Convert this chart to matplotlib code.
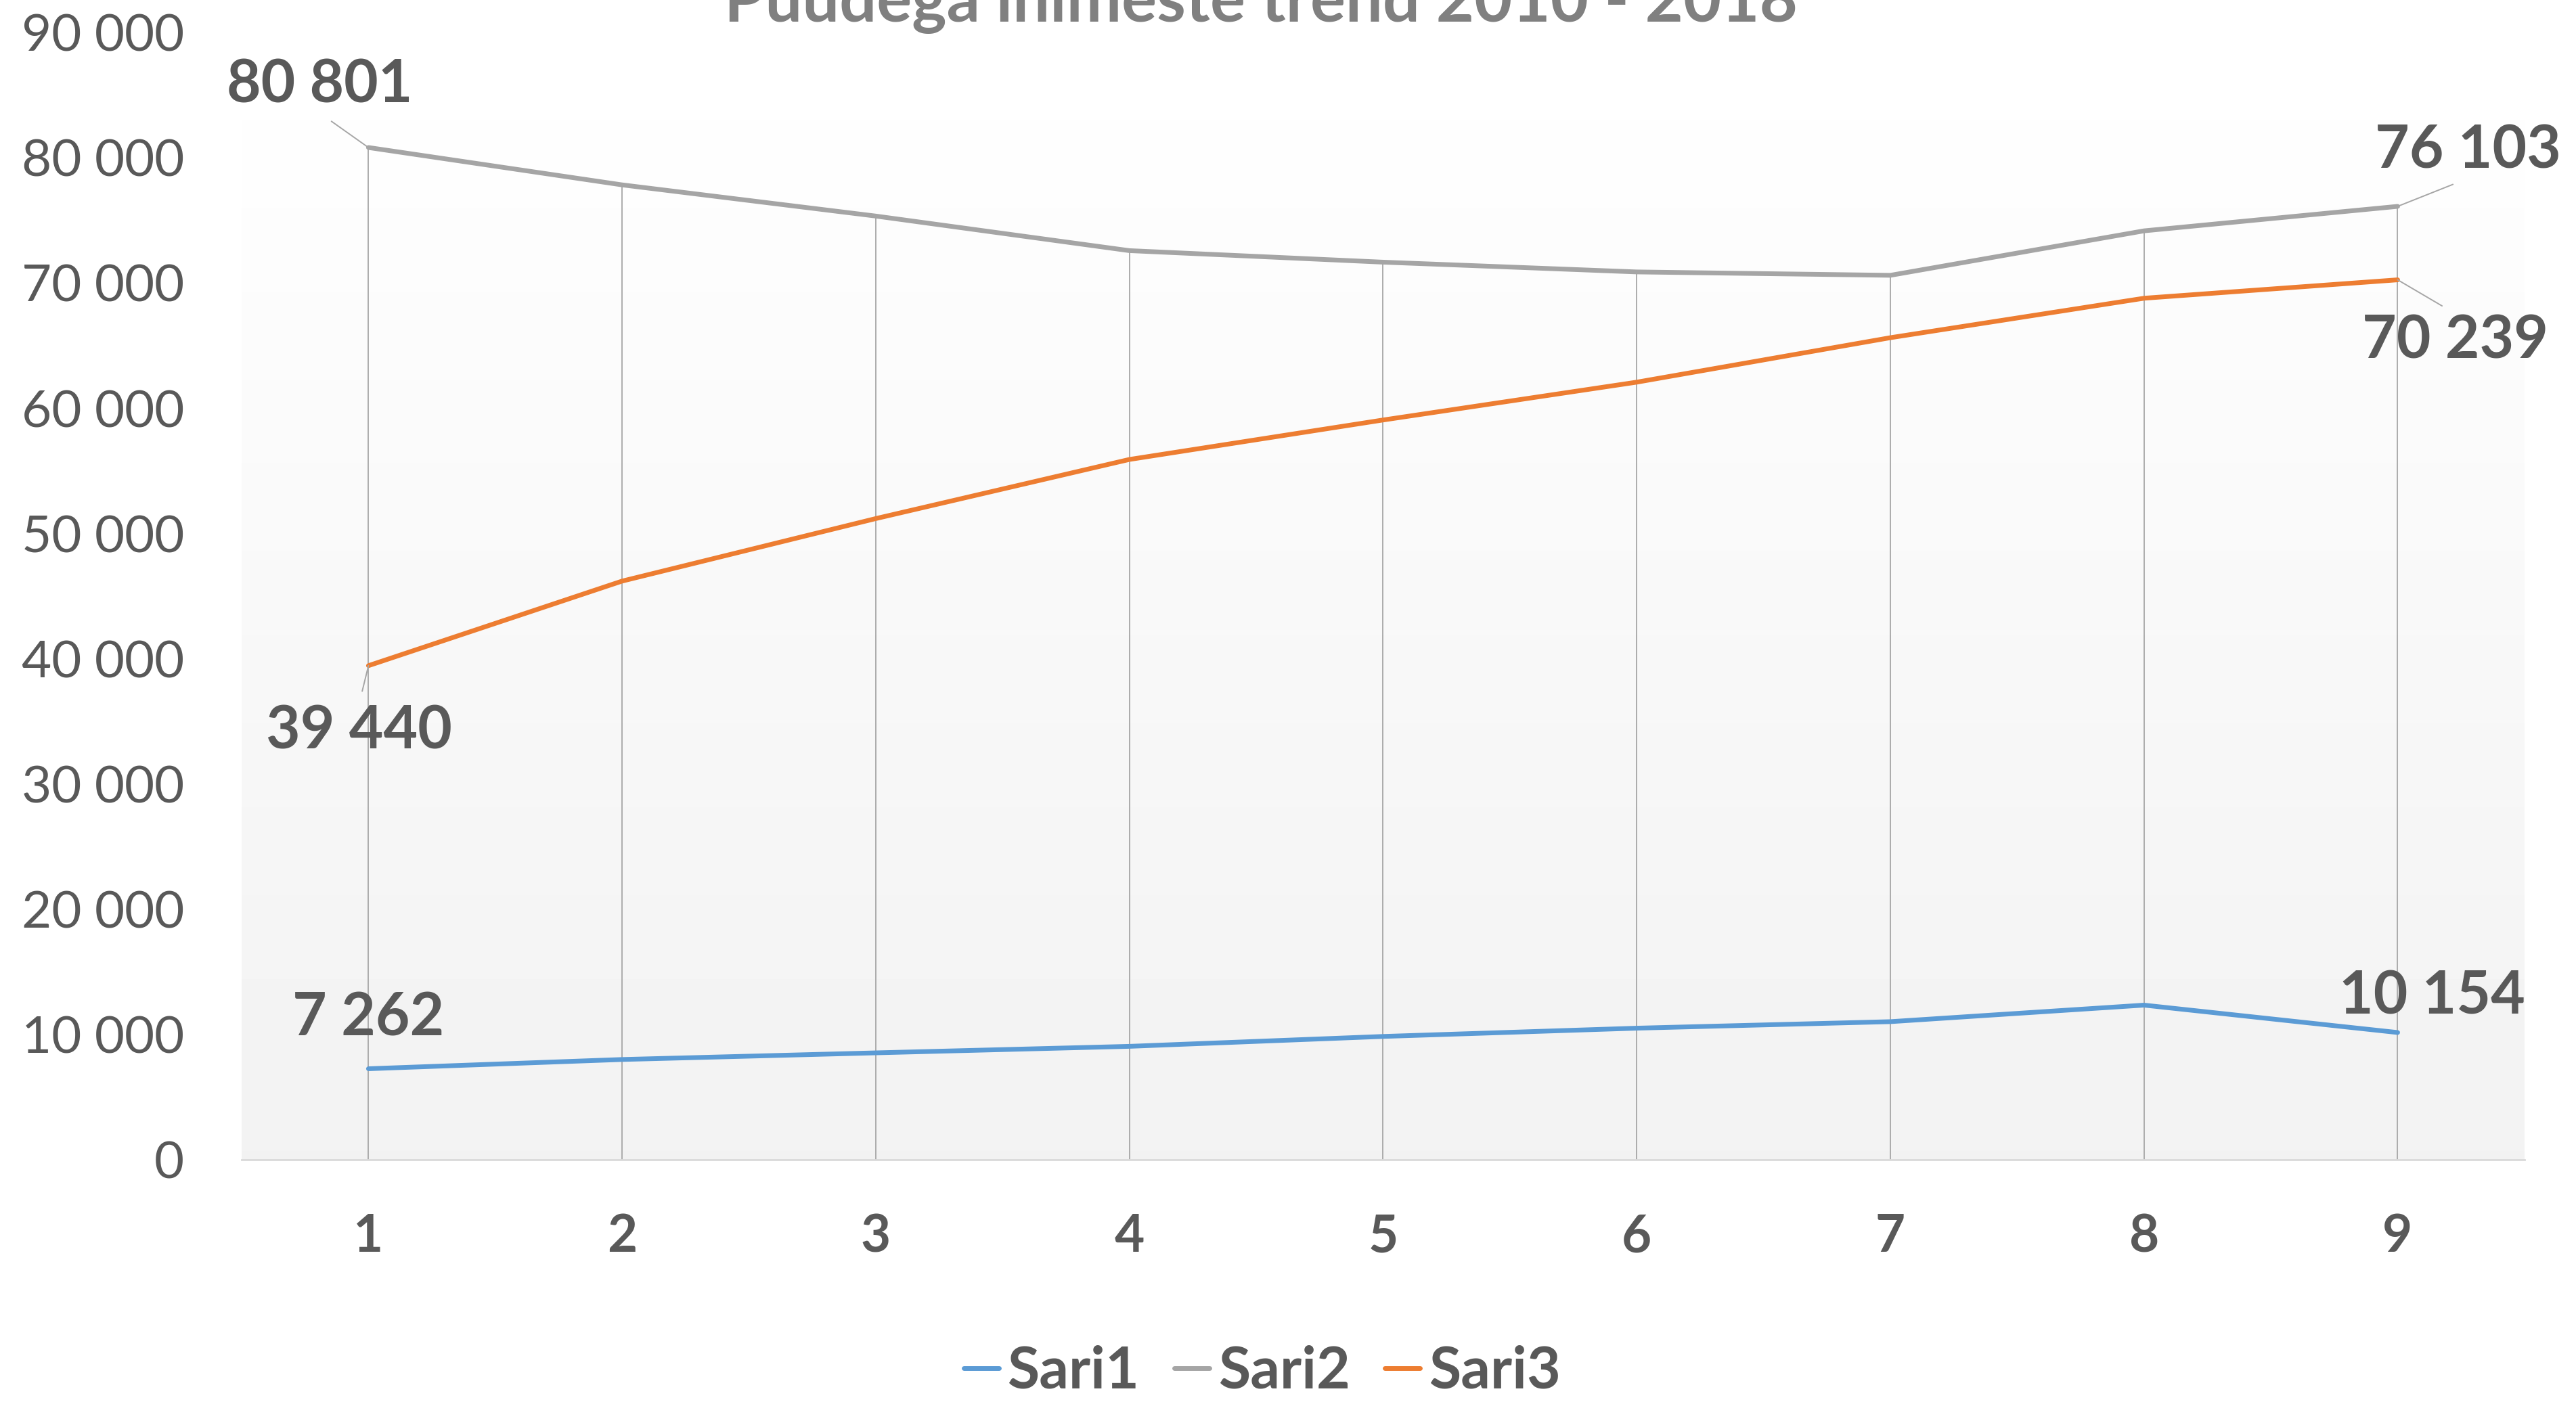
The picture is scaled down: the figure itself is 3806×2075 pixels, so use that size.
import numpy as np
import matplotlib.pyplot as plt
from matplotlib.ticker import FuncFormatter

plt.rcParams['font.family'] = ['Lato', 'DejaVu Sans']

title = 'Puudega inimeste trend 2010 - 2018'
x = [1, 2, 3, 4, 5, 6, 7, 8, 9]
sari1 = [7262, 8000, 8530, 9050, 9840, 10500, 11020, 12340, 10154]
sari2 = [80801, 77820, 75330, 72570, 71650, 70870, 70600, 74150, 76103]
sari3 = [39440, 46190, 51180, 55900, 59050, 62070, 65620, 68770, 70239]
names = ['Sari1', 'Sari2', 'Sari3']
colors = ['#5b9bd5', '#a5a5a5', '#ed7d31']

txt = '#595959'
fig = plt.figure(figsize=(38.06, 20.75), dpi=100)
ax = fig.add_axes([0.0938, 0.174, 0.8862, 0.803])

# plot area gradient (white at top -> light gray at bottom)
grad = np.linspace(1.0, 0.949, 256).reshape(-1, 1)
ax.imshow(grad, cmap='gray', vmin=0, vmax=1, aspect='auto',
          extent=[0.5, 9.5, 0, 90000], zorder=0, origin='upper')

# drop lines
tops = np.max([sari1, sari2, sari3], axis=0)
ax.vlines(x, 0, tops, color='#a6a6a6', lw=1.3, zorder=1)

for s, n, c in zip([sari1, sari2, sari3], names, colors):
    ax.plot(x, s, color=c, lw=5, label=n, zorder=3, solid_capstyle='round')

fmt = lambda v: '{:,}'.format(int(v)).replace(',', ' ')

# data labels: (series, index, offset in points, leader relpos)
labels = [
    (sari2, 0, (-52, 66), (0.5, 0.0)),
    (sari2, 8, (75, 59), (0.5, 0.0)),
    (sari3, 8, (61, -65), (0.5, 1.0)),
    (sari3, 0, (-10, -70), (0.5, 1.0)),
    (sari1, 0, (0, 54), None),
    (sari1, 8, (37, 38), None),
]
for s, i, off, rp in labels:
    kw = {}
    if rp is not None:
        kw['arrowprops'] = dict(arrowstyle='-', color='#a6a6a6', lw=1.4,
                                shrinkA=12, shrinkB=0, relpos=rp)
    ax.annotate(fmt(s[i]), (x[i], s[i]), xytext=off, textcoords='offset points',
                ha='center', va='center', fontsize=63, fontweight='bold',
                color=txt, zorder=5, **kw)

ax.set_xlim(0.5, 9.5)
ax.set_ylim(0, 90000)
ax.set_yticks(range(0, 90001, 10000))
ax.yaxis.set_major_formatter(FuncFormatter(lambda v, p: fmt(v)))
ax.set_xticks(x)
ax.tick_params(axis='y', length=0, pad=61, labelsize=55, labelcolor=txt)
ax.tick_params(axis='x', length=0, pad=57, labelsize=55, labelcolor=txt)
for t in ax.get_xticklabels():
    t.set_fontweight('bold')
for sp in ['top', 'right', 'left']:
    ax.spines[sp].set_visible(False)
ax.spines['bottom'].set_color('#d9d9d9')
ax.spines['bottom'].set_linewidth(2)
ax.spines['bottom'].set_zorder(2)

fig.text(0.4895, 1 - 32 / 2075, title, ha='center', va='baseline',
         fontsize=70, fontweight='bold', color='#808080')

leg = fig.legend(loc='center', bbox_to_anchor=(0.49, 0.023), ncol=3, frameon=False,
                 handlelength=0.6, handletextpad=0.15, columnspacing=0.6,
                 prop={'size': 62, 'weight': 'bold'})
for t in leg.get_texts():
    t.set_color(txt)

fig.savefig('out.png', dpi=100)
